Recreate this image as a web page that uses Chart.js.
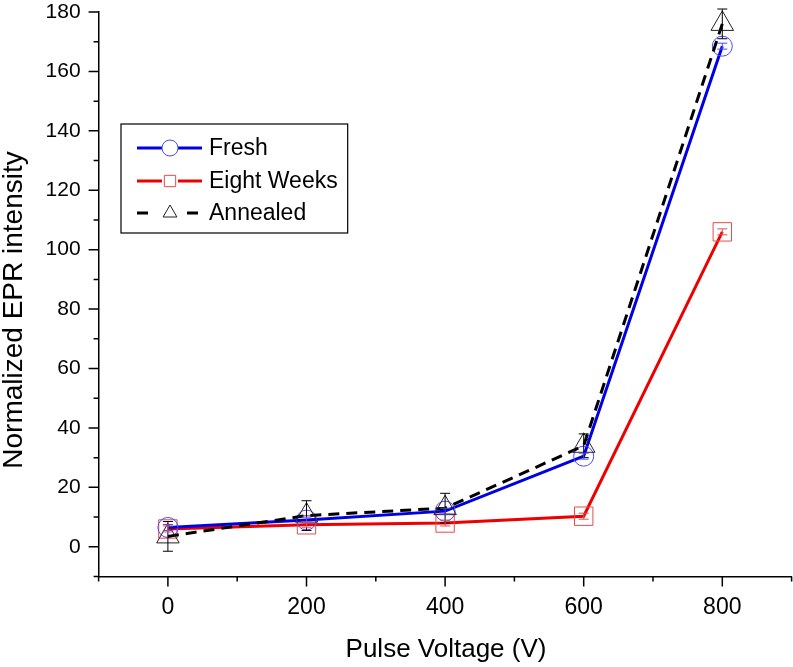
<!DOCTYPE html>
<html>
<head>
<meta charset="utf-8">
<script src="https://cdn.jsdelivr.net/npm/chart.js@4.4.1/dist/chart.umd.min.js"></script>
<style>
  html, body { margin: 0; padding: 0; background: #fff; }
  #wrap { width: 793px; height: 667px; position: relative; }
</style>
</head>
<body>
<div id="wrap"><canvas id="epr"></canvas></div>
<script>
const voltages     = [0, 200, 400, 600, 800];
const fresh        = [6.5, 9, 12, 30.5, 168.5];
const eightWeeks   = [6, 7.4, 8, 10.3, 106];
const annealed     = [3.5, 10.5, 13, 34, 176];
const freshErr     = [1, 1, 1, 1, 1];
const eightErr     = [1, 1, 1, 1, 1];
const annealedErr  = [5, 5, 5, 4, 5];
const xTickLabels  = [0, 200, 400, 600, 800];
const yTickLabels  = [0, 20, 40, 60, 80, 100, 120, 140, 160, 180];

const FONT = "'Liberation Sans', Arial, sans-serif";

function pts(vals) {
  return voltages.map((v, i) => ({ x: v, y: vals[i] }));
}

function drawMarker(ctx, style, x, y, r, color, lw) {
  ctx.save();
  ctx.strokeStyle = color;
  ctx.lineWidth = lw;
  ctx.setLineDash([]);
  ctx.beginPath();
  if (style === "circle") {
    ctx.arc(x, y, r, 0, Math.PI * 2);
  } else if (style === "rect") {
    const s = r * Math.SQRT1_2;
    ctx.rect(x - s, y - s, 2 * s, 2 * s);
  } else {
    const h = r * Math.cos(Math.PI / 6);
    ctx.moveTo(x, y - r);
    ctx.lineTo(x + h, y + r / 2);
    ctx.lineTo(x - h, y + r / 2);
    ctx.closePath();
  }
  ctx.stroke();
  ctx.restore();
}

// error bars, caps and all
const errorBars = {
  id: "errorBars",
  afterDatasetsDraw(chart) {
    const { ctx, scales: { x, y } } = chart;
    chart.data.datasets.forEach(ds => {
      ctx.save();
      ctx.strokeStyle = ds.errColor;
      ctx.lineWidth = 1;
      ds.data.forEach((p, i) => {
        const px = x.getPixelForValue(p.x);
        const top = y.getPixelForValue(p.y + ds.err[i]);
        const bot = y.getPixelForValue(p.y - ds.err[i]);
        ctx.beginPath();
        ctx.moveTo(px, top); ctx.lineTo(px, bot);
        ctx.moveTo(px - 5, top); ctx.lineTo(px + 5, top);
        ctx.moveTo(px - 5, bot); ctx.lineTo(px + 5, bot);
        ctx.stroke();
      });
      ctx.restore();
    });
  }
};

// outward tick marks, long for labelled ticks, short for the rest
const tickMarks = {
  id: "tickMarks",
  afterDraw(chart) {
    const { ctx, scales: { x, y } } = chart;
    ctx.save();
    ctx.strokeStyle = "#000";
    ctx.lineWidth = 1.5;
    ctx.beginPath();
    x.ticks.forEach(t => {
      const px = x.getPixelForValue(t.value);
      const len = xTickLabels.includes(t.value) ? 10 : 5;
      ctx.moveTo(px, x.top); ctx.lineTo(px, x.top + len);
    });
    y.ticks.forEach(t => {
      const py = y.getPixelForValue(t.value);
      const len = yTickLabels.includes(t.value) ? 10 : 5;
      ctx.moveTo(y.right, py); ctx.lineTo(y.right - len, py);
    });
    ctx.stroke();
    ctx.restore();
  }
};

const axisTitles = {
  id: "axisTitles",
  afterDraw(chart) {
    const { ctx } = chart;
    ctx.save();
    ctx.fillStyle = "#000";
    ctx.textAlign = "center";
    ctx.textBaseline = "middle";
    ctx.font = "26px " + FONT;
    ctx.fillText("Pulse Voltage (V)", 446, 650);
    ctx.translate(14, 310);
    ctx.rotate(-Math.PI / 2);
    ctx.font = "28px " + FONT;
    ctx.fillText("Normalized EPR intensity", 0, 0);
    ctx.restore();
  }
};

const boxLegend = {
  id: "boxLegend",
  afterDraw(chart) {
    const { ctx } = chart;
    const order = [1, 2, 0];
    const left = 121, top = 124, rowY = [148, 181, 213];
    ctx.save();
    ctx.font = "23px " + FONT;
    let textW = 0;
    order.forEach(i => { textW = Math.max(textW, ctx.measureText(chart.data.datasets[i].label).width); });
    const textX = 209;
    const w = textX + textW + 10 - left;
    ctx.fillStyle = "#fff";
    ctx.fillRect(left, top, w, 109);
    ctx.strokeStyle = "#000";
    ctx.lineWidth = 1.2;
    ctx.strokeRect(left, top, w, 109);
    order.forEach((i, row) => {
      const ds = chart.data.datasets[i];
      const cy = rowY[row];
      ctx.strokeStyle = ds.borderColor;
      ctx.lineWidth = ds.borderWidth;
      ctx.beginPath();
      if (ds.borderDash) {
        ctx.moveTo(137, cy); ctx.lineTo(148, cy);
        ctx.moveTo(187, cy); ctx.lineTo(198, cy);
      } else {
        ctx.moveTo(137, cy); ctx.lineTo(162, cy);
        ctx.moveTo(178, cy); ctx.lineTo(202, cy);
      }
      ctx.stroke();
      drawMarker(ctx, ds.pointStyle, 170, cy, 8, ds.pointBorderColor, 1);
      ctx.fillStyle = "#000";
      ctx.textBaseline = "middle";
      ctx.fillText(ds.label, textX, cy + 1);
    });
    ctx.restore();
  }
};

new Chart(document.getElementById("epr"), {
  type: "line",
  data: {
    datasets: [
      {
        label: "Annealed",
        data: pts(annealed),
        err: annealedErr,
        errColor: "#000",
        borderColor: "#000",
        borderWidth: 3,
        borderDash: [11, 7],
        pointStyle: "triangle",
        pointRadius: 13,
        pointBorderWidth: 1,
        pointBorderColor: "#222",
        pointBackgroundColor: "rgba(255,255,255,0)",
        clip: false,
        order: 0,
      },
      {
        label: "Fresh",
        data: pts(fresh),
        err: freshErr,
        errColor: "#4a4aff",
        borderColor: "#0000e6",
        borderWidth: 3,
        pointStyle: "circle",
        pointRadius: 10,
        pointBorderWidth: 1,
        pointBorderColor: "#4a4aff",
        pointBackgroundColor: "rgba(255,255,255,0)",
        clip: false,
        order: 1,
      },
      {
        label: "Eight Weeks",
        data: pts(eightWeeks),
        err: eightErr,
        errColor: "#e84a4a",
        borderColor: "#ee0000",
        borderWidth: 3,
        pointStyle: "rect",
        pointRadius: 13,
        pointBorderWidth: 1,
        pointBorderColor: "#e84a4a",
        pointBackgroundColor: "rgba(255,255,255,0)",
        clip: false,
        order: 2,
      },
    ],
  },
  options: {
    responsive: true,
    maintainAspectRatio: false,
    animation: false,
    layout: { autoPadding: false, padding: { left: 0, top: 12, right: 1.4, bottom: 0 } },
    plugins: { legend: { display: false }, tooltip: { enabled: false } },
    scales: {
      x: {
        type: "linear",
        min: -100,
        max: 900,
        afterFit: s => { s.height = 90.5; s.paddingLeft = 0; s.paddingRight = 0; },
        grid: { drawOnChartArea: false, drawTicks: true, tickLength: 17, tickColor: "rgba(0,0,0,0)" },
        border: { color: "#000", width: 1.5 },
        ticks: {
          stepSize: 100,
          padding: 0,
          color: "#000",
          font: { family: FONT, size: 23 },
          callback: v => xTickLabels.includes(v) ? String(v) : "",
        },
      },
      y: {
        type: "linear",
        min: -10,
        max: 180,
        afterFit: s => { s.width = 98.6; s.paddingTop = 0; s.paddingBottom = 0; },
        grid: { drawOnChartArea: false, drawTicks: true, tickLength: 18, tickColor: "rgba(0,0,0,0)" },
        border: { color: "#000", width: 1.5 },
        ticks: {
          stepSize: 10,
          padding: 0,
          color: "#000",
          font: { family: FONT, size: 21 },
          callback: v => yTickLabels.includes(v) ? String(v) : "",
        },
      },
    },
  },
  plugins: [errorBars, tickMarks, axisTitles, boxLegend],
});
</script>
</body>
</html>
